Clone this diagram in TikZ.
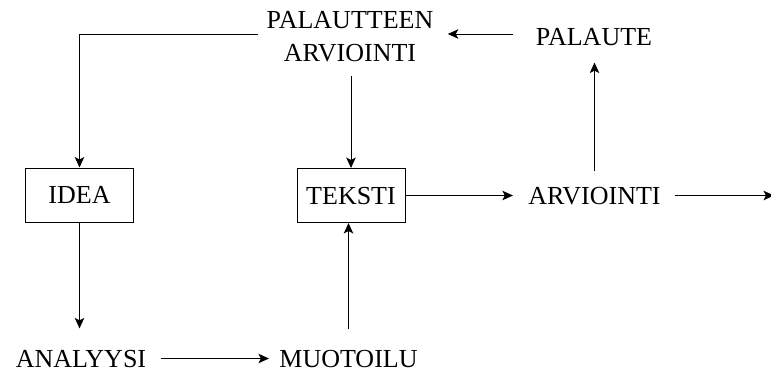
\documentclass[tikz,border=0pt]{standalone}
\usepackage{fontspec}
\setmainfont{Liberation Serif}
\usetikzlibrary{arrows.meta}
\begin{document}
\begin{tikzpicture}[x=1pt,y=-1pt,
  line width=1pt,
  every node/.style={font=\fontsize{26}{33}\selectfont, text depth=0pt, inner sep=0pt},
  label/.style={align=center},
  boxed/.style={draw, minimum width=108pt, minimum height=54pt},
  arr/.style={-{Stealth[length=10.5pt,width=9.5pt,inset=2.5pt]}}]
  \useasboundingbox (0,0) rectangle (771,373);

  % nodes
  \node[label] (parv) at (350,36.5) {PALAUTTEEN\\ARVIOINTI};
  \node[label] (pal)  at (594,36.5) {PALAUTE};
  \node[boxed] (idea) at (79.5,195) {IDEA};
  \node[boxed] (teksti) at (351,195.5) {TEKSTI};
  \node[label] (arv)  at (594.5,195.5) {ARVIOINTI};
  \node[label] (ana)  at (81,358.5) {ANALYYSI};
  \node[label] (muo)  at (348.5,358.5) {MUOTOILU};
  \coordinate (out) at (774,195.5);

  % connectors
  \draw[arr] ([xshift=-8pt,yshift=2.5pt]parv.west) -| (idea.north);
  \draw[arr, shorten <=22pt, shorten >=14pt]
    ([yshift=2.5pt]pal.west) -- ([yshift=2.5pt]pal.west -| parv.east);
  \draw[arr, shorten <=14pt] (parv.south -| teksti.north) -- (teksti.north);
  \draw[arr, shorten >=15pt] (teksti.east) -- (teksti.east -| arv.west);
  \draw[arr, shorten <=14pt] (arv.east) -- (out);
  \draw[arr, shorten <=15pt, shorten >=17pt] (arv.north) -- (arv.north |- pal.south);
  \draw[arr, shorten >=21pt] (idea.south) -- (idea.south |- ana.north);
  \draw[arr, shorten <=14pt, shorten >=10pt] (ana.east) -- (muo.west);
  \draw[arr, shorten <=20pt] (muo.north) -- (muo.north |- teksti.south);
\end{tikzpicture}
\end{document}
